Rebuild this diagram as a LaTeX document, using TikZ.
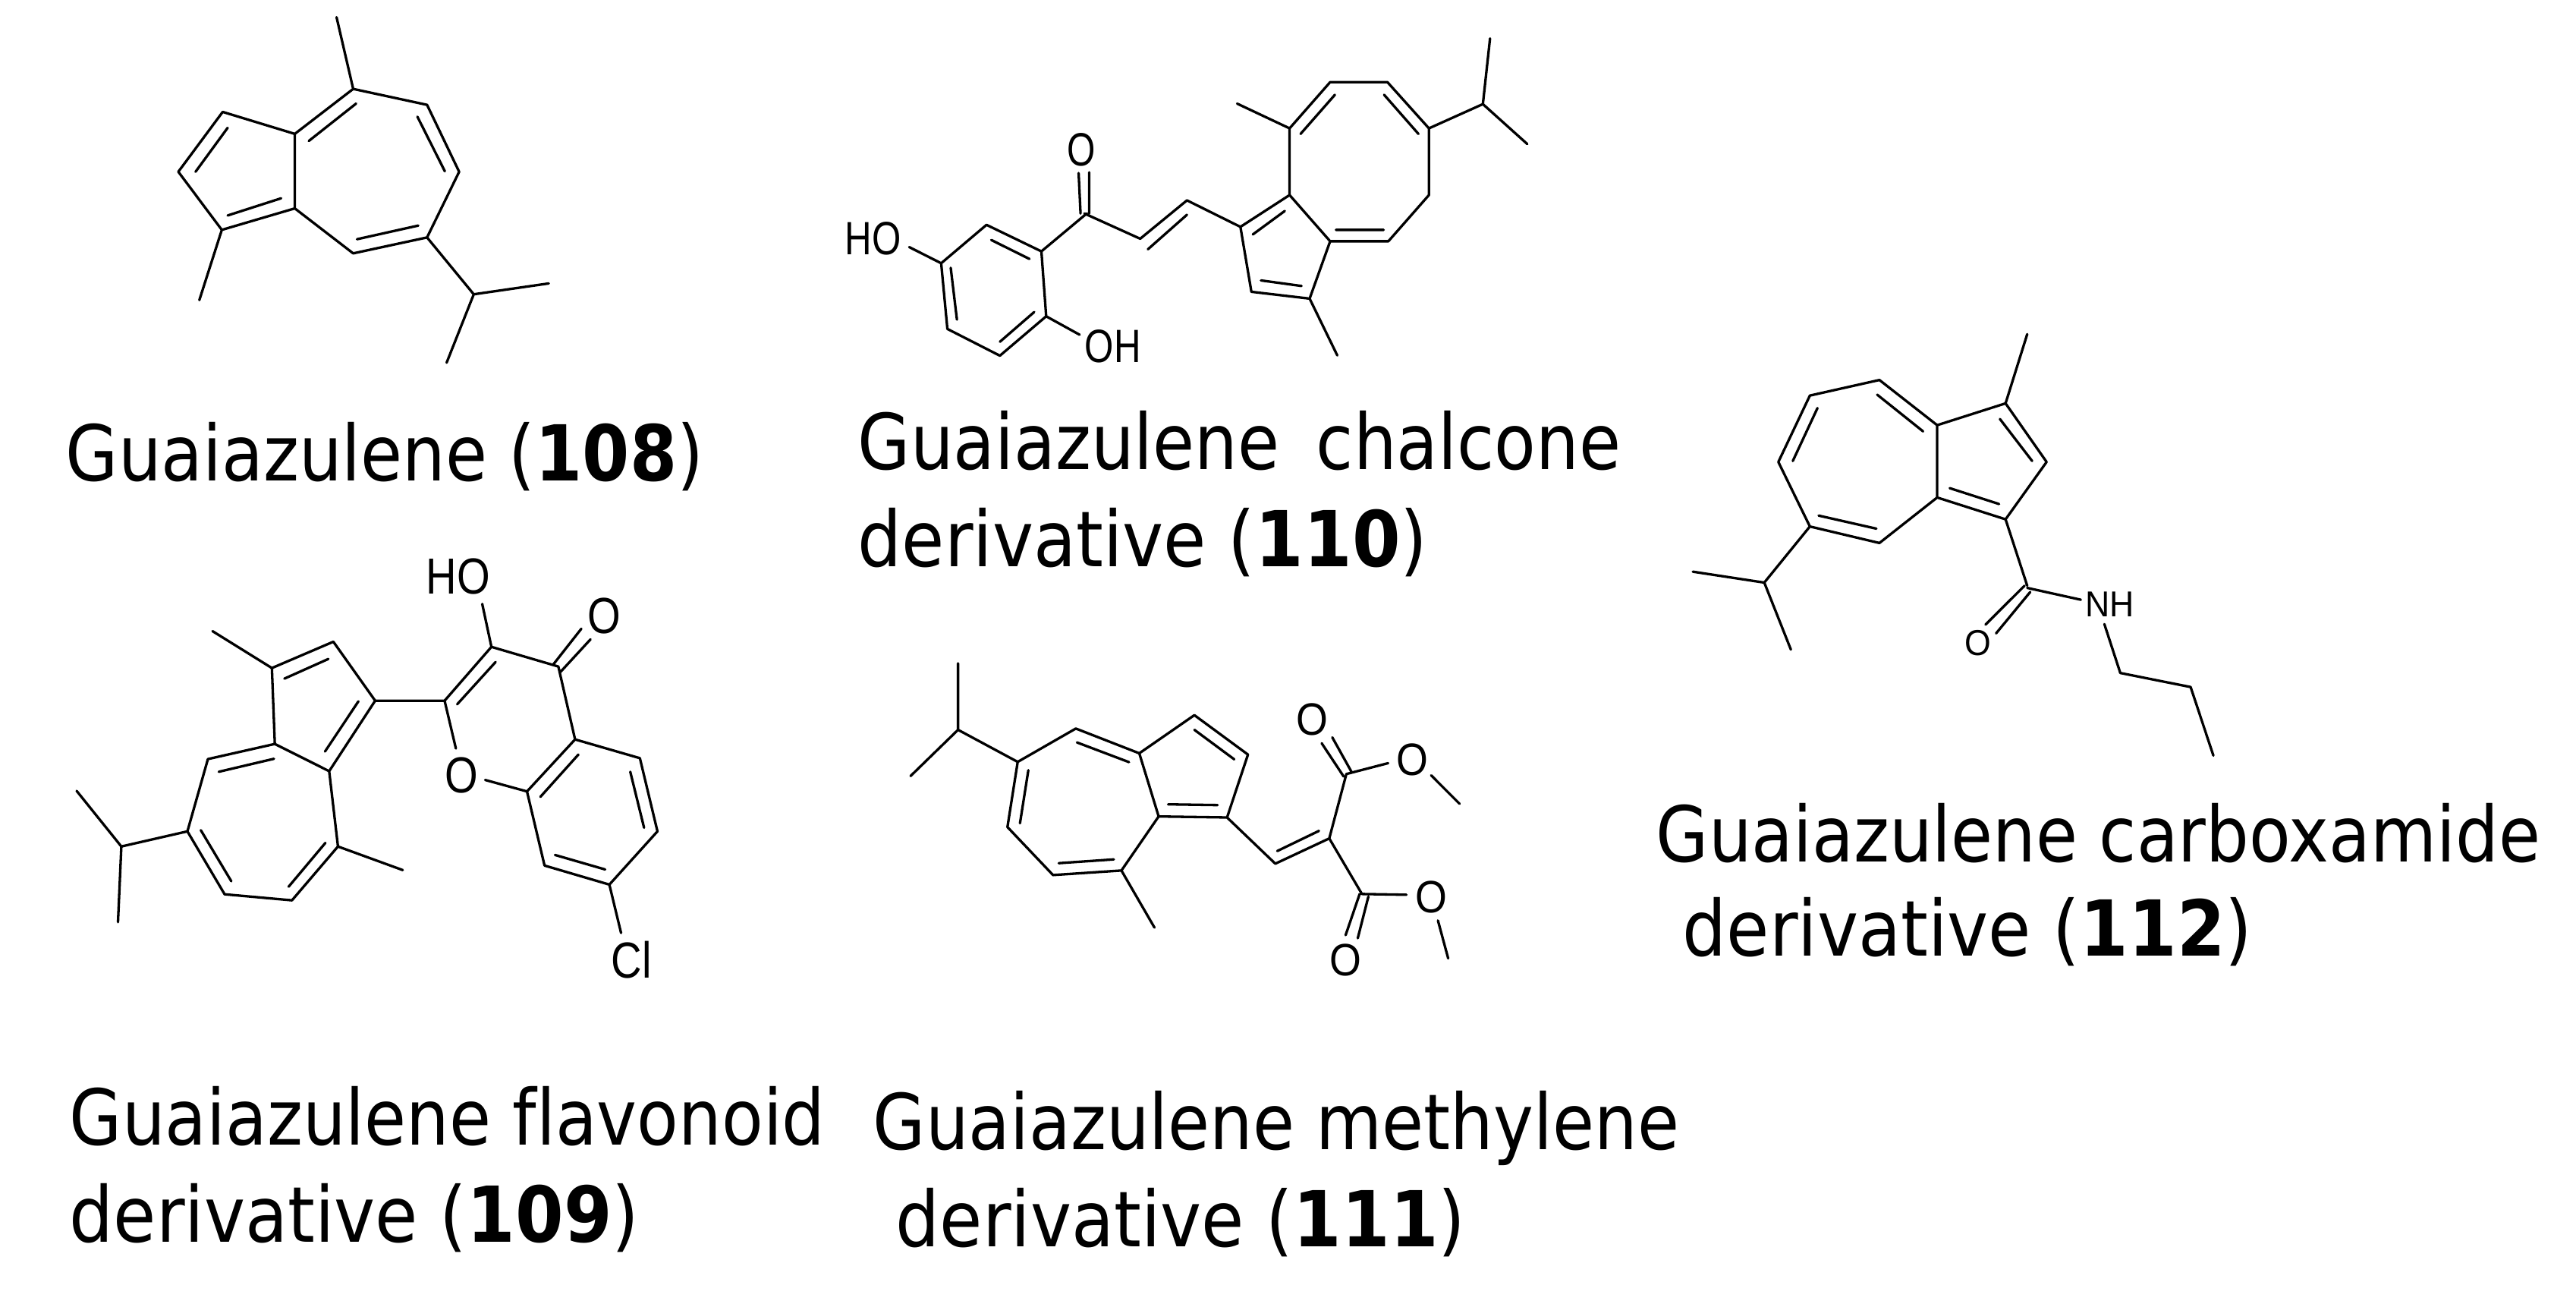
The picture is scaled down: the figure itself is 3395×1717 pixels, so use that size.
\documentclass[tikz,border=0pt]{standalone}
\usepackage{fontspec}
\setmainfont{Liberation Sans}
\newfontfamily\lab[FakeStretch=0.88]{DejaVu Sans}
\newfontfamily\labb[FakeStretch=0.9]{DejaVu Sans}
\newcommand\atm[3]{\scalebox{#2}[1]{\fontsize{#1}{#1}\selectfont #3}}
\newcommand\nm[1]{{\bfseries #1}}
\tikzset{
  bond/.style={line width=0.033cm,line join=round,line cap=round,black},
  caption/.style={anchor=base west,inner sep=0pt,font=\lab\fontsize{28.9}{30}\selectfont},
  captionb/.style={anchor=base west,inner sep=0pt,font=\labb\fontsize{28.9}{30}\selectfont},
  atom/.style={inner sep=2.2pt,outer sep=0pt}
}
\begin{document}
\begin{tikzpicture}[x=0.01cm,y=-0.01cm]
\useasboundingbox (0,0) rectangle (3395,1717);
\fill[white] (0,0) rectangle (3395,1717);

% 108
\begin{scope}[shift={(180,0)},x=0.003846cm,y=-0.003333cm]
\draw[bond] (685,68)--(742,352)--(995,415)--(1105,680)--(995,940)--(742,1003)--(542,825)--(542,530)--(742,352)
 (542,530)--(295,443)--(143,680)--(292,910)--(542,825) (292,910)--(215,1188)
 (995,940)--(1155,1165)--(1412,1122) (1155,1165)--(1062,1436)
 (590,558)--(752,410) (962,462)--(1056,678) (965,893)--(755,947) (495,785)--(312,853) (202,680)--(312,506);
\end{scope}

% 110
\begin{scope}[shift={(1080,20)},x=0.00628cm,y=-0.003333cm]
\node[atom] (ho110) at (112,885) {\atm{17.5}{.8}{HO}};
\node[atom] (oh110) at (615,1310) {\atm{17.5}{.8}{OH}};
\node[atom] (o110) at (548,533) {\atm{17.5}{.78}{O}};
\draw[bond] (465,935)--(350,830)--(255,982)--(268,1242)--(378,1348)--(475,1192)--(465,935)
 (440,965)--(360,890) (275,1000)--(288,1205) (378,1293)--(450,1175)
 (255,982)--(188,918) (475,1192)--(545,1265)
 (465,935)--(560,785) (565,785)--(565,622) (547,785)--(543,625)
 (555,785)--(672,885)--(770,733)--(882,838) (688,927)--(770,790)
 (882,838)--(985,712)--(1070,895)--(1027,1122)--(905,1095)--(882,838)
 (908,868)--(975,775) (925,1050)--(1010,1072) (1027,1122)--(1085,1347)
 (985,712)--(985,448)--(1070,265)--(1190,265)--(1277,448)--(1277,712)--(1192,895)--(1070,895)
 (1008,470)--(1080,315) (1183,315)--(1255,470) (1082,850)--(1182,850)
 (985,448)--(875,350) (1277,448)--(1390,352)--(1405,92) (1390,352)--(1483,510);
\end{scope}

% 112
\begin{scope}[shift={(2200,400)},x=0.005cm,y=-0.0041cm]
\node[atom] (nh112) at (1160,965) {\atm{13.5}{.94}{NH}};
\node[atom] (o112) at (813,1088) {\atm{13.5}{.94}{O}};
\draw[bond] (942,98)--(885,320)--(705,390)--(705,622)--(885,692)--(993,508)--(885,320)
 (870,370)--(955,505) (868,643)--(738,592)
 (705,390)--(553,245)--(370,295)--(287,508)--(370,715)--(553,768)--(705,622)
 (668,410)--(547,292) (390,335)--(325,505) (545,722)--(393,680)
 (370,715)--(250,895)--(62,860) (250,895)--(320,1110)
 (885,692)--(942,905) (935,905)--(832,1030) (950,925)--(860,1058)
 (942,912)--(1083,950) (1145,1028)--(1187,1185)--(1372,1230)--(1432,1450);
\end{scope}

% 109
\begin{scope}[shift={(80,700)},x=0.005513cm,y=-0.003975cm]
\node[atom] (ho109) at (950,150) {\atm{19}{.84}{HO}};
\node[atom] (o109a) at (1300,280) {\atm{19}{.84}{O}};
\node[atom] (o109b) at (958,807) {\atm{19}{.84}{O}};
\node[atom] (cl109) at (1365,1418) {\atm{19}{.84}{Cl}};
\draw[bond] (505,452)--(652,365)--(752,560)--(642,793)--(512,703)--(505,452)
 (535,487)--(640,422) (712,562)--(632,728) (505,452)--(363,330)
 (512,703)--(352,753)--(303,992)--(392,1200)--(553,1220)--(663,1042)--(642,793)
 (378,795)--(510,752) (335,988)--(408,1157) (545,1175)--(633,1030)
 (663,1042)--(818,1120) (303,992)--(145,1042)--(38,858) (145,1042)--(137,1292)
 (752,560)--(918,560)--(1030,382) (948,572)--(1040,432) (1030,382)--(1008,240)
 (1030,382)--(1190,447) (1178,440)--(1245,322) (1195,465)--(1267,357)
 (1190,447)--(1230,688)--(1115,860) (1238,738)--(1147,878)
 (918,560)--(945,718) (1115,860)--(1015,822)
 (1230,688)--(1385,750)--(1427,992)--(1312,1168)--(1157,1105)--(1115,860)
 (1362,795)--(1395,980) (1302,1118)--(1182,1070) (1312,1168)--(1340,1328);
\end{scope}

% 111
\begin{scope}[shift={(1180,850)},x=0.005cm,y=-0.003333cm]
\node[atom] (o111a) at (1098,293) {\atm{17}{.9}{O}};
\node[atom] (o111b) at (1360,452) {\atm{17}{.9}{O}};
\node[atom] (o111c) at (1185,1248) {\atm{17}{.9}{O}};
\node[atom] (o111d) at (1410,997) {\atm{17}{.9}{O}};
\draw[bond] (165,72)--(165,335)--(40,518) (165,335)--(322,462)--(475,330)--(642,428)--(787,277)--(928,433)--(873,682)--(693,678)--(642,428)
 (478,385)--(615,463) (787,335)--(892,452) (848,633)--(718,630)
 (693,678)--(595,892)--(415,910)--(295,720)--(322,462)
 (575,848)--(430,863) (328,705)--(350,495) (595,892)--(682,1118)
 (873,682)--(1000,865)--(1142,765)--(1187,510)--(1297,467) (1005,815)--(1115,735)
 (1122,388)--(1180,520) (1150,365)--(1200,500) (1410,515)--(1485,628)
 (1142,765)--(1228,985)--(1345,988)
 (1222,985)--(1185,1148) (1245,995)--(1217,1160) (1428,1090)--(1455,1240);
\end{scope}

% captions
\node[caption] (c108) at (86,633) {Guaiazulene (\nm{108})};
\node[caption] (c110a) at (1130,618) {Guaiazulene\hspace{5.7pt} chalcone};
\node[captionb] (c110b) at (1130,746) {derivative (\nm{110})};
\node[caption] (c112a) at (2182,1135) {Guaiazulene carboxamide};
\node[captionb] (c112b) at (2217,1259) {derivative (\nm{112})};
\node[caption] (c109a) at (91,1508) {Guaiazulene f\kern0ptlavonoid};
\node[captionb] (c109b) at (91,1636) {derivative (\nm{109})};
\node[caption] (c111a) at (1150,1514) {Guaiazulene methylene};
\node[captionb] (c111b) at (1180,1642) {derivative (\nm{111})};
\end{tikzpicture}
\end{document}
